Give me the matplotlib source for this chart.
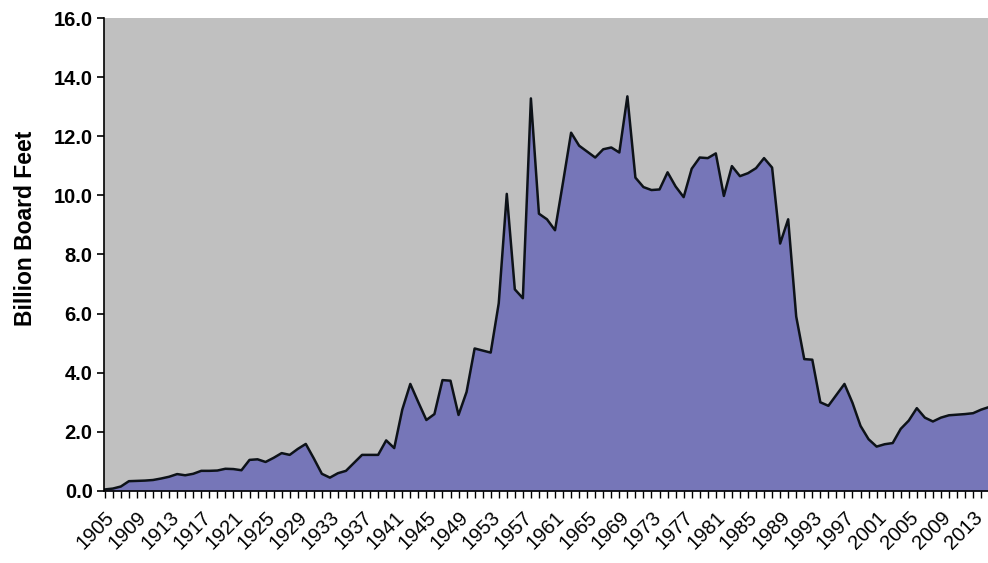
import matplotlib
matplotlib.use("Agg")
import matplotlib.pyplot as plt
from matplotlib.ticker import MultipleLocator, FormatStrFormatter

plt.rcParams['font.family'] = ['Liberation Sans', 'DejaVu Sans']

# harvest, billion board feet, one value per year starting 1905
first_year = 1905
harvest = [
    0.05, 0.08, 0.15, 0.33, 0.34, 0.35, 0.37, 0.42, 0.48, 0.57,   # 1905-1914
    0.53, 0.58, 0.68, 0.68, 0.69, 0.75, 0.74, 0.70, 1.05, 1.07,   # 1915-1924
    0.98, 1.12, 1.28, 1.22, 1.42, 1.59, 1.10, 0.58, 0.45, 0.60,   # 1925-1934
    0.68, 0.95, 1.22, 1.22, 1.22, 1.71, 1.45, 2.75, 3.62, 3.00,   # 1935-1944
    2.40, 2.60, 3.75, 3.73, 2.57, 3.35, 4.82, 4.75, 4.68, 6.35,   # 1945-1954
    10.05, 6.82, 6.52, 13.28, 9.38, 9.19, 8.82, 10.45, 12.12, 11.68,  # 1955-1964
    11.48, 11.28, 11.56, 11.62, 11.45, 13.35, 10.60, 10.28, 10.18, 10.20,  # 1965-1974
    10.78, 10.30, 9.94, 10.90, 11.28, 11.26, 11.42, 9.98, 10.99, 10.65,  # 1975-1984
    10.75, 10.92, 11.26, 10.94, 8.37, 9.19, 5.90, 4.46, 4.44, 3.00,   # 1985-1994
    2.88, 3.25, 3.62, 2.98, 2.20, 1.75, 1.50, 1.58, 1.62, 2.10,   # 1995-2004
    2.38, 2.80, 2.48, 2.35, 2.48, 2.56, 2.58, 2.60, 2.63, 2.75,   # 2005-2014
    2.84,                                                         # 2015
]
years = list(range(first_year, first_year + len(harvest)))
label_years = years[::4]

fig = plt.figure(figsize=(9.88, 5.63), dpi=100)
ax = fig.add_axes([0.105, 0.128, 0.897, 0.840])
ax.set_facecolor('#c0c0c0')

ax.fill_between(years, harvest, 0, color='#7676b8', linewidth=0)
ax.plot(years, harvest, color='#0d1218', linewidth=1.8)

ax.set_xlim(1904.87, 2015.1)
ax.set_ylim(0, 16)

ax.yaxis.set_major_locator(MultipleLocator(2))
ax.yaxis.set_major_formatter(FormatStrFormatter('%.1f'))
for lbl in ax.get_yticklabels():
    lbl.set_fontweight('bold')
ax.tick_params(axis='y', labelsize=14.5, length=5, width=1.2, direction='out', pad=3)

ax.set_xticks(years, minor=True)
ax.set_xticks(label_years)
ax.set_xticklabels([str(y) for y in label_years], rotation=45, ha='right',
                   rotation_mode='anchor', fontsize=14.5)
ax.tick_params(axis='x', which='both', length=5, width=1.0, direction='out', pad=7)

ax.set_ylabel('Billion Board Feet', fontsize=16.5, fontweight='bold')
ax.yaxis.set_label_coords(-0.075, 0.555)

for side in ['top', 'right']:
    ax.spines[side].set_visible(False)
ax.spines['left'].set_linewidth(1.2)
ax.spines['bottom'].set_linewidth(1.2)

fig.savefig('out.png', dpi=100)
